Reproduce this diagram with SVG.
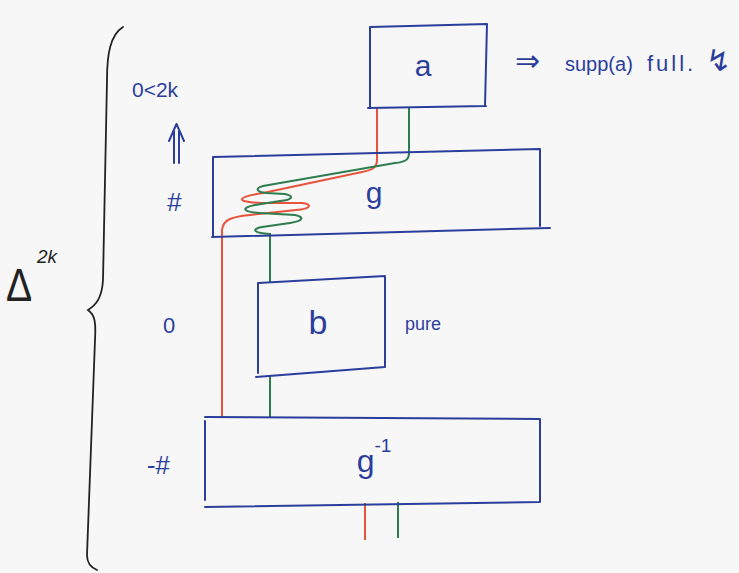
<svg xmlns="http://www.w3.org/2000/svg" width="739" height="573" viewBox="0 0 739 573">
<style>
.box{fill:none;stroke:#2c3e9c;stroke-width:2;stroke-linejoin:round;stroke-linecap:round}
.blue{fill:#2c3e9c;font-family:"Liberation Sans","DejaVu Sans",sans-serif}
.ink{fill:none;stroke:#222;stroke-width:1.8;stroke-linecap:round}
.red{fill:none;stroke:#e8533c;stroke-width:2}
.green{fill:none;stroke:#2e7d4f;stroke-width:2}
</style>
<rect width="739" height="573" fill="#f7f7f7"/>

<g id="connectors">
  <path class="red" d="M377,108 L377,160 C377,168 372,170 362,172 L263,193 C236,197 234,202 262,203 L302,203 C313,204 311,209 296,210 L250,215 C230,217 223,220 222,230 L222,417"/>
  <path class="green" d="M409,108 L409,153 C409,160 405,162 395,163 L263,186 C255,188 256,192 266,193 L285,194 C295,196 292,200 280,201 L255,205 C240,208 243,212 260,213 L295,215 C305,217 303,221 290,223 L262,227 C251,229 253,233 270,234 L270,283"/>
  <path class="green" d="M270,375 L270,417"/>
  <path class="red" d="M365,503 L365,540"/>
  <path class="green" d="M398,502 L398,538"/>
</g>

<g id="node-a">
  <path class="box" d="M370,27 L487,24 M487,24 L485,106 M370,27 L370,108 M368,108 L486,106"/>
  <text class="blue" x="423" y="76" font-size="30" text-anchor="middle">a</text>
</g>

<g id="node-g">
  <path class="box" d="M213,157 L540,149 M540,149 L540,226 M213,157 L213,237 M212,237 L550,228"/>
  <text class="blue" x="374" y="203" font-size="30" text-anchor="middle">g</text>
</g>

<g id="node-b">
  <path class="box" d="M258,283 L385,276 M385,276 L385,367 M258,283 L258,373 M256,377 L385,367"/>
  <text class="blue" x="318" y="334" font-size="34" text-anchor="middle">b</text>
</g>

<g id="node-ginv">
  <path class="box" d="M205,417 L540,419 M540,419 L540,502 M205,421 L205,500 M205,507 L540,502"/>
  <text class="blue" x="374" y="472" font-size="32" text-anchor="middle">g<tspan dy="-20" font-size="19">-1</tspan></text>
</g>

<g id="labels">
  <text class="blue" x="132" y="97" font-size="21">0&lt;2k</text>
  <path class="box" d="M174,163 L174,131 M179,163 L179,131 M169,141 L176.5,124 L184,141"/>
  <text class="blue" x="174" y="211" font-size="26" text-anchor="middle" font-style="italic">#</text>
  <text class="blue" x="169" y="333" font-size="22" text-anchor="middle">0</text>
  <text class="blue" x="158" y="474" font-size="26" text-anchor="middle" font-style="italic">-#</text>
  <text class="blue" x="405" y="330" font-size="18">pure</text>
  <text class="blue" font-size="20" y="71"><tspan x="515" font-family="DejaVu Sans" font-size="30">⇒</tspan><tspan x="565">supp(a)</tspan><tspan x="647" font-size="22" letter-spacing="3">full.</tspan><tspan x="706" font-family="DejaVu Sans" font-size="30">↯</tspan></text>
  <text x="0" y="0" font-size="46" fill="#222" font-family="Liberation Sans, sans-serif" transform="translate(6,301) scale(0.85,1)">Δ</text>
  <text x="37" y="263" font-size="19" fill="#222" font-family="Liberation Sans, sans-serif" font-style="italic">2k</text>
  <path class="ink" d="M123,27 C110,35 107,55 107,80 L103,280 C102,298 96,305 88,310 C95,315 96,322 95,340 L87,555 C87,563 90,567 97,570"/>
</g>
</svg>
